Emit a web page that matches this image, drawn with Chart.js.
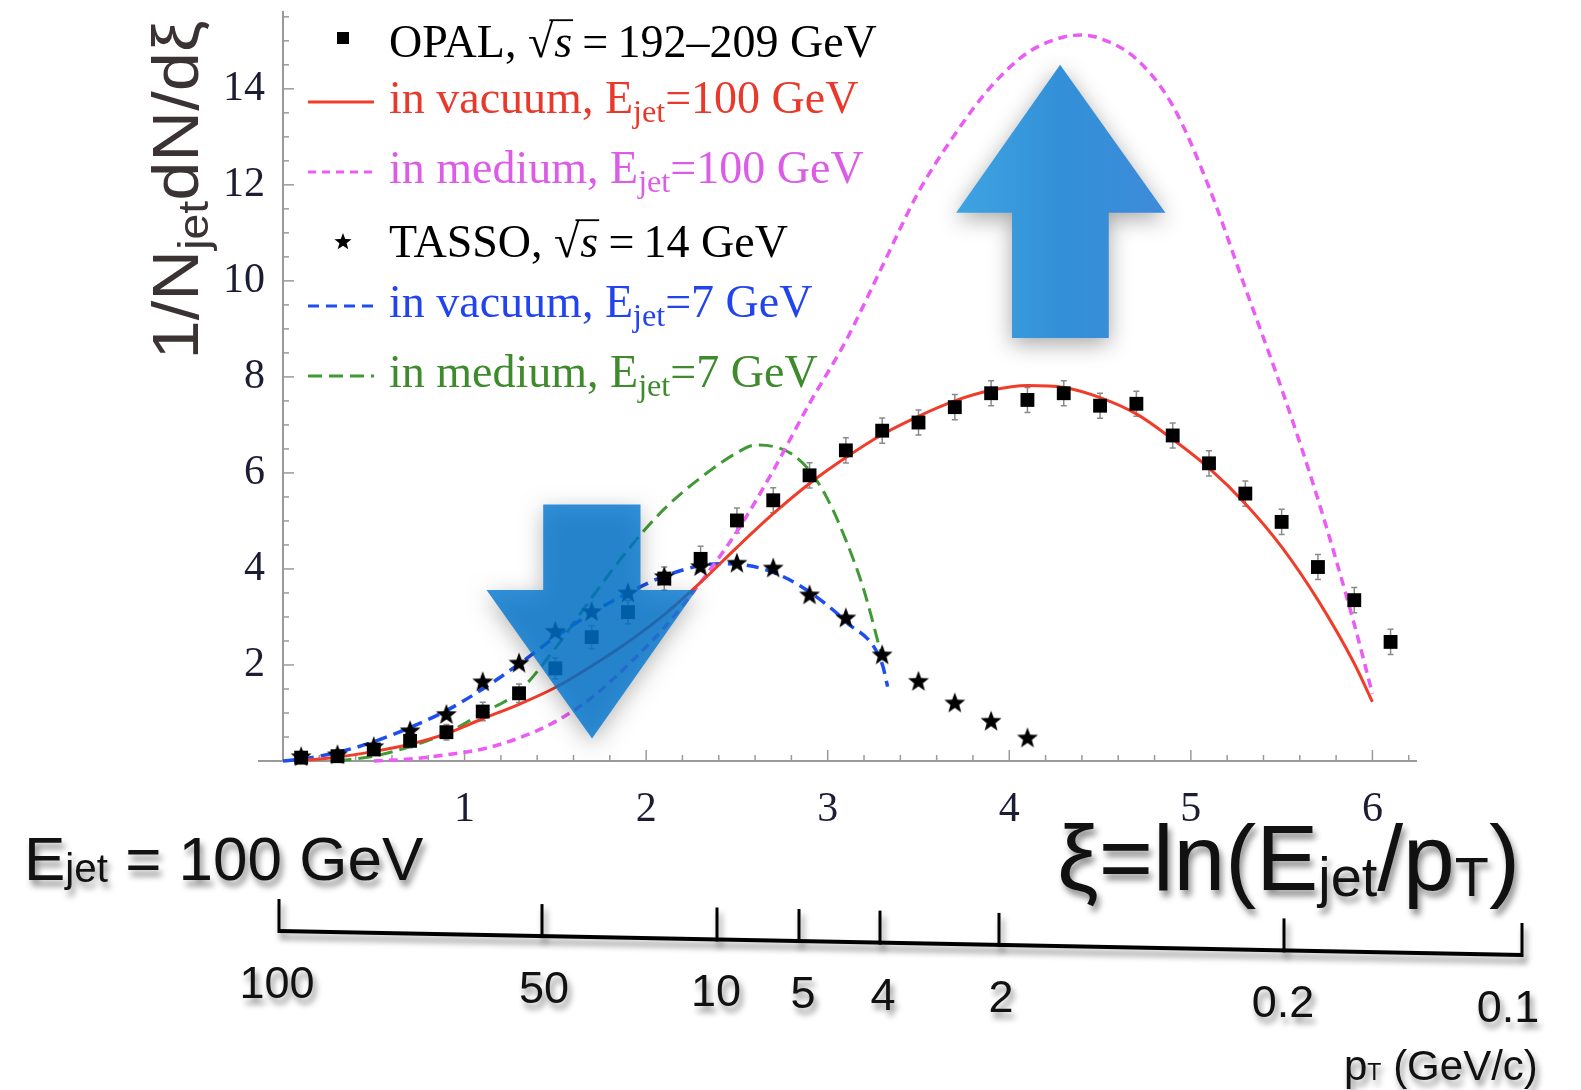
<!DOCTYPE html>
<html><head><meta charset="utf-8">
<script src="https://cdn.jsdelivr.net/npm/chart.js@4.4.0/dist/chart.umd.min.js"></script>
<style>html,body{margin:0;padding:0;background:#fff;overflow:hidden}canvas{display:block}</style>
</head><body>
<canvas id="c" width="1581" height="1090"></canvas>
<script>
// ---------- data ----------
const opalXi  = [0.1,0.3,0.5,0.7,0.9,1.1,1.3,1.5,1.7,1.9,2.1,2.3,2.5,2.7,2.9,3.1,3.3,3.5,3.7,3.9,4.1,4.3,4.5,4.7,4.9,5.1,5.3,5.5,5.7,5.9,6.1];
const opalVal = [0.07,0.10,0.24,0.42,0.60,1.03,1.41,1.93,2.58,3.10,3.80,4.21,5.01,5.43,5.95,6.47,6.88,7.05,7.37,7.66,7.52,7.66,7.40,7.44,6.78,6.20,5.57,4.98,4.04,3.35,2.48];
const opalErr = [0.05,0.05,0.08,0.10,0.12,0.15,0.15,0.18,0.20,0.20,0.20,0.22,0.22,0.22,0.22,0.22,0.22,0.22,0.22,0.22,0.22,0.22,0.22,0.22,0.22,0.22,0.22,0.22,0.22,0.22,0.22];

const tassoXi  = [0.1,0.3,0.5,0.7,0.9,1.1,1.3,1.5,1.7,1.9,2.1,2.3,2.5,2.7,2.9,3.1,3.3,3.5,3.7,3.9,4.1];
const tassoVal = [0.08,0.12,0.29,0.62,0.96,1.64,2.03,2.69,3.10,3.49,3.83,4.04,4.11,4.01,3.45,2.97,2.20,1.65,1.20,0.82,0.47];

const vac100Xi  = [0.1,0.3,0.5,0.7,0.9,1.1,1.3,1.5,1.7,1.9,2.1,2.3,2.5,2.7,2.9,3.1,3.3,3.5,3.7,3.9,4.1,4.3,4.5,4.7,4.9,5.1,5.3,5.5,5.7,5.9,6.0];
const vac100Val = [0.01,0.08,0.20,0.35,0.57,0.88,1.18,1.53,1.98,2.48,3.05,3.72,4.45,5.15,5.78,6.32,6.80,7.18,7.50,7.72,7.82,7.78,7.57,7.23,6.70,6.10,5.36,4.46,3.35,2.03,1.23];

const med100Xi  = [0.5,0.7,0.9,1.1,1.3,1.5,1.7,1.9,2.1,2.3,2.5,2.7,2.9,3.1,3.3,3.5,3.7,3.9,4.1,4.3,4.4,4.5,4.7,4.9,5.1,5.3,5.5,5.7,5.9,6.0];
const med100Val = [0.0,0.04,0.13,0.25,0.48,0.82,1.32,2.0,2.78,3.72,4.78,6.05,7.45,8.75,10.3,11.85,13.05,14.05,14.75,15.08,15.12,15.05,14.62,13.65,11.95,9.85,7.75,5.45,2.85,1.40];

const vac7Xi  = [0.0,0.1,0.3,0.5,0.7,0.9,1.1,1.3,1.5,1.7,1.9,2.1,2.3,2.4,2.5,2.7,2.9,3.1,3.3,3.33];
const vac7Val = [0.0,0.04,0.18,0.40,0.70,1.05,1.50,2.02,2.58,3.08,3.50,3.85,4.07,4.11,4.10,3.93,3.52,2.90,2.02,1.55];

const med7Xi  = [0.3,0.5,0.7,0.9,1.1,1.3,1.5,1.7,1.9,2.1,2.3,2.5,2.6,2.7,2.8,2.9,3.0,3.1,3.2,3.3];
const med7Val = [0.0,0.10,0.30,0.58,1.00,1.45,2.35,3.40,4.40,5.25,5.90,6.42,6.58,6.55,6.40,6.05,5.45,4.60,3.55,2.15];

const xTickVals = [1,2,3,4,5,6];
const yTickVals = [2,4,6,8,10,12,14];
const ptTickLabels = ['100','50','10','5','4','2','0.2','0.1'];

const labels = {
  opal:  'OPAL, √s\u2009=\u2009192–209 GeV',
  vac100:'in vacuum, E_{jet}=100 GeV',
  med100:'in medium, E_{jet}=100 GeV',
  tasso: 'TASSO, √s\u2009=\u200914 GeV',
  vac7:  'in vacuum, E_{jet}=7 GeV',
  med7:  'in medium, E_{jet}=7 GeV'
};

// ---------- layout / style constants ----------
const COL = {red:'#f03c28', mag:'#ea5cf5', blue:'#1f4ef0', green:'#3f9a35'};
const TXT = {red:'#e8392a', mag:'#dc5ce8', blue:'#2244ee', green:'#3e8a2c'};
const SERIF = '"Liberation Serif","Times New Roman",serif';
const SANS = '"Liberation Sans",Arial,Helvetica,sans-serif';
const upArrow   = {tip:[4.28,14.5], headY:11.42, headL:3.707, headR:4.86, shaftL:4.015, shaftR:4.548, bottom:8.81};
const downArrow = {tip:[1.702,0.47], headY:3.56, headL:1.121, headR:2.277, shaftL:1.433, shaftR:1.969, top:5.34};
const ptLine = {x0:279, y0:931, x1:1522, y1:955};
const ptTickX = [279,542,717,799,880,999,1284,1522];
const ptLabelX = [277,544,716,803,883,1001,1283,1508];

function pts(xs, ys){ return xs.map((x,i)=>({x:x, y:ys[i]})); }

function makeStar(r){
  const s=Math.ceil(r*2+2), c=document.createElement('canvas'); c.width=c.height=s;
  const g=c.getContext('2d'); g.fillStyle='#000'; g.beginPath();
  for(let k=0;k<10;k++){ const a=-Math.PI/2+k*Math.PI/5, rr=k%2?r*0.42:r; g.lineTo(s/2+rr*Math.cos(a), s/2+rr*Math.sin(a)); }
  g.closePath(); g.fill(); return c;
}
const starImg = makeStar(11);
const starSmall = makeStar(9);

// ---------- rich text ----------
function parseRich(str){
  const out=[]; let buf='', i=0;
  while(i<str.length){
    if(str[i]==='_' && str[i+1]==='{'){ if(buf){out.push({t:buf}); buf='';} const j=str.indexOf('}',i); out.push({t:str.slice(i+2,j), sub:true}); i=j+1; }
    else if(str[i]==='√'){ if(buf){out.push({t:buf}); buf='';} out.push({t:str[i+1], sqrt:true}); i+=2; }
    else { buf+=str[i]; i++; }
  }
  if(buf) out.push({t:buf});
  return out;
}
function richLayout(ctx, str, o){
  const toks=parseRich(str); let w=0;
  toks.forEach(t=>{
    if(t.sub){ ctx.font=`${o.weight||400} ${o.size*o.subScale}px ${o.family}`; t.w=ctx.measureText(t.t).width; }
    else if(t.sqrt){ ctx.font=`${o.weight||400} ${o.size}px ${o.family}`; t.rw=ctx.measureText('√').width; ctx.font=`italic ${o.weight||400} ${o.size}px ${o.family}`; t.sw=ctx.measureText(t.t).width; t.w=t.rw+t.sw+2; }
    else { ctx.font=`${o.weight||400} ${o.size}px ${o.family}`; t.w=ctx.measureText(t.t).width; }
    w+=t.w;
  });
  return {toks, w};
}
function drawRich(ctx, str, x, y, o){
  const L=richLayout(ctx,str,o); let cx=x;
  ctx.fillStyle=o.color; ctx.textBaseline='alphabetic'; ctx.textAlign='left';
  L.toks.forEach(t=>{
    if(t.sub){ ctx.font=`${o.weight||400} ${o.size*o.subScale}px ${o.family}`; ctx.fillText(t.t,cx,y+o.size*o.subDrop); }
    else if(t.sqrt){
      ctx.font=`${o.weight||400} ${o.size}px ${o.family}`; ctx.fillText('√',cx,y);
      ctx.font=`italic ${o.weight||400} ${o.size}px ${o.family}`; ctx.fillText(t.t,cx+t.rw+1,y);
      ctx.save(); ctx.shadowColor='transparent'; ctx.strokeStyle=o.color; ctx.lineWidth=Math.max(1.5,o.size*0.04);
      ctx.beginPath(); const ty=y-o.size*0.80; ctx.moveTo(cx+t.rw*0.85,ty); ctx.lineTo(cx+t.rw+t.sw+2,ty); ctx.stroke(); ctx.restore();
    }
    else { ctx.font=`${o.weight||400} ${o.size}px ${o.family}`; ctx.fillText(t.t,cx,y); }
    cx+=t.w;
  });
  return L.w;
}
function shadowOn(ctx){ ctx.shadowColor='rgba(0,0,0,0.45)'; ctx.shadowBlur=6; ctx.shadowOffsetX=3; ctx.shadowOffsetY=6; }

// ---------- plugins ----------
const bgPlugin = { id:'bg', beforeDraw(ch){ const c=ch.ctx; c.save(); c.fillStyle='#fff'; c.fillRect(0,0,ch.width,ch.height); c.restore(); } };

const errPlugin = { id:'err', beforeDatasetsDraw(ch){
  const c=ch.ctx, xs=ch.scales.x, ys=ch.scales.y; c.save(); c.strokeStyle='#8a8a8a'; c.lineWidth=1.5;
  opalXi.forEach((x,i)=>{ const px=xs.getPixelForValue(x), lo=ys.getPixelForValue(opalVal[i]-opalErr[i]), hi=ys.getPixelForValue(opalVal[i]+opalErr[i]);
    c.beginPath(); c.moveTo(px,lo+2); c.lineTo(px,hi-2); c.moveTo(px-3,lo+2); c.lineTo(px+3,lo+2); c.moveTo(px-3,hi-2); c.lineTo(px+3,hi-2); c.stroke(); });
  c.restore();
}};

const axisTickPlugin = { id:'axticks', beforeDatasetsDraw(ch){
  const c=ch.ctx, xs=ch.scales.x, ys=ch.scales.y, a=ch.chartArea; c.save(); c.strokeStyle='#9a9a9a'; c.lineWidth=1.5;
  for(let k=1;k<=40;k++){ const v=k*0.2, px=xs.getPixelForValue(v); if(px>a.right) break; const major=Math.abs(v-Math.round(v))<1e-6;
    c.beginPath(); c.moveTo(px,a.bottom); c.lineTo(px,a.bottom-(major?11:6)); c.stroke(); }
  for(let k=1;k<=40;k++){ const v=k*0.5; if(v>15.5) break; const py=ys.getPixelForValue(v); const major=(v%2===0);
    c.beginPath(); c.moveTo(a.left,py); c.lineTo(a.left+(major?11:6),py); c.stroke(); }
  c.lineWidth=2; c.beginPath(); c.moveTo(258,a.bottom); c.lineTo(a.left,a.bottom); c.stroke();
  c.restore();
}};

function arrowPath(c, pts){ c.beginPath(); pts.forEach((p,i)=> i? c.lineTo(p[0],p[1]) : c.moveTo(p[0],p[1])); c.closePath(); }

const decoPlugin = { id:'deco', afterDraw(ch){
  const c=ch.ctx, xs=ch.scales.x, ys=ch.scales.y, X=v=>xs.getPixelForValue(v), Y=v=>ys.getPixelForValue(v);
  // ---- arrows ----
  c.save();
  let u=upArrow;
  let P=[[X(u.tip[0]),Y(u.tip[1])],[X(u.headR),Y(u.headY)],[X(u.shaftR),Y(u.headY)],[X(u.shaftR),Y(u.bottom)],[X(u.shaftL),Y(u.bottom)],[X(u.shaftL),Y(u.headY)],[X(u.headL),Y(u.headY)]];
  let g=c.createLinearGradient(X(u.headL),0,X(u.headR),0); g.addColorStop(0,'#3ea4e2'); g.addColorStop(0.5,'#3390d8'); g.addColorStop(1,'#3e8bd9');
  c.shadowColor='rgba(0,0,0,0.35)'; c.shadowBlur=22; c.shadowOffsetY=6; c.fillStyle=g; arrowPath(c,P); c.fill();
  let d=downArrow;
  P=[[X(d.shaftL),Y(d.top)],[X(d.shaftR),Y(d.top)],[X(d.shaftR),Y(d.headY)],[X(d.headR),Y(d.headY)],[X(d.tip[0]),Y(d.tip[1])],[X(d.headL),Y(d.headY)],[X(d.shaftL),Y(d.headY)]];
  c.fillStyle='rgba(0,118,208,0.80)'; arrowPath(c,P); c.fill();
  c.restore();

  // ---- legend ----
  c.save();
  const lo={size:46, family:SERIF, subScale:0.7, subDrop:0.2};
  const rows=[
    {lab:labels.opal,  col:'#000', kind:'sq',  base:57},
    {lab:labels.vac100,col:TXT.red, line:COL.red, dash:[], base:113},
    {lab:labels.med100,col:TXT.mag, line:COL.mag, dash:[8,6], base:183},
    {lab:labels.tasso, col:'#000', kind:'star', base:257},
    {lab:labels.vac7,  col:TXT.blue, line:COL.blue, dash:[11,7], base:317},
    {lab:labels.med7,  col:TXT.green, line:COL.green, dash:[14,7], base:387}
  ];
  rows.forEach(r=>{
    if(r.kind==='sq'){ c.fillStyle='#000'; c.fillRect(337,r.base-25,12,12); }
    else if(r.kind==='star'){ c.drawImage(starSmall, 343-starSmall.width/2, r.base-15-starSmall.height/2); }
    else { c.strokeStyle=r.line; c.lineWidth=3; c.setLineDash(r.dash); c.beginPath(); c.moveTo(308,r.base-11); c.lineTo(374,r.base-11); c.stroke(); c.setLineDash([]); }
    drawRich(c, r.lab, 389, r.base, Object.assign({color:r.col}, lo));
  });
  c.restore();

  // ---- y title ----
  c.save();
  const yo={size:64, family:SANS, subScale:0.66, subDrop:0.16, color:'#3b3333'};
  const yt='1/N_{jet}dN/dξ'; const yw=richLayout(c,yt,yo).w;
  c.translate(198,190); c.rotate(-Math.PI/2); c.scale(1.1,1);
  drawRich(c, yt, -yw/2, 0, yo);
  c.restore();

  // ---- bottom annotations ----
  c.save(); shadowOn(c);
  drawRich(c,'E_{jet} = 100 GeV',24,880,{size:62,family:SANS,subScale:0.65,subDrop:0.04,color:'#111'});
  drawRich(c,'ξ=ln(E_{jet}/p_{T})',1057,890,{size:93,family:SANS,subScale:0.6,subDrop:0.06,color:'#111'});
  // pT axis
  c.strokeStyle='#000'; c.lineWidth=4; c.lineCap='butt';
  c.beginPath(); c.moveTo(ptLine.x0,ptLine.y0); c.lineTo(ptLine.x1,ptLine.y1); c.stroke();
  const ly=x=>ptLine.y0+(ptLine.y1-ptLine.y0)*(x-ptLine.x0)/(ptLine.x1-ptLine.x0);
  c.lineWidth=3;
  ptTickX.forEach(x=>{ c.beginPath(); c.moveTo(x,ly(x)+2); c.lineTo(x,ly(x)-32); c.stroke(); });
  c.font=`45px ${SANS}`; c.fillStyle='#111'; c.textAlign='center'; c.textBaseline='alphabetic';
  ptTickLabels.forEach((t,i)=>{ const x=ptLabelX[i]; c.fillText(t,x,ly(ptTickX[i])+67); });
  drawRich(c,'p_{T} (GeV/c)',1344,1080,{size:42,family:SANS,subScale:0.55,subDrop:0.0,color:'#111'});
  c.restore();
}};

// ---------- chart ----------
const ctx=document.getElementById('c').getContext('2d');
new Chart(ctx,{
  type:'scatter',
  data:{ datasets:[
    {label:labels.opal, data:pts(opalXi,opalVal), pointStyle:'rect', pointRadius:9.8, backgroundColor:'#000', borderWidth:0, showLine:false, clip:false},
    {label:labels.tasso, data:pts(tassoXi,tassoVal), pointStyle:starImg, pointRadius:11, showLine:false, clip:false},
    {label:labels.vac100, data:pts(vac100Xi,vac100Val), showLine:true, pointRadius:0, borderColor:COL.red, borderWidth:3, cubicInterpolationMode:'monotone', clip:false},
    {label:labels.med100, data:pts(med100Xi,med100Val), showLine:true, pointRadius:0, borderColor:COL.mag, borderWidth:3.5, borderDash:[9,6], cubicInterpolationMode:'monotone', clip:false},
    {label:labels.vac7, data:pts(vac7Xi,vac7Val), showLine:true, pointRadius:0, borderColor:COL.blue, borderWidth:3.5, borderDash:[12,7], cubicInterpolationMode:'monotone', clip:false},
    {label:labels.med7, data:pts(med7Xi,med7Val), showLine:true, pointRadius:0, borderColor:COL.green, borderWidth:3, borderDash:[14,7], cubicInterpolationMode:'monotone', clip:false}
  ]},
  options:{
    responsive:false, maintainAspectRatio:false, animation:false, devicePixelRatio:1,
    layout:{padding:{top:11,right:165,left:0,bottom:0}},
    plugins:{legend:{display:false}, tooltip:{enabled:false}},
    scales:{
      x:{type:'linear', min:0, max:6.24,
         afterBuildTicks:s=>{ s.ticks=xTickVals.map(v=>({value:v})); },
         afterFit:s=>{ s.height=329; s.paddingLeft=0; s.paddingRight=0; },
         grid:{display:false, drawTicks:false}, border:{display:true, color:'#9a9a9a', width:2},
         ticks:{padding:24, color:'#1c1c34', font:{family:SERIF, size:42}, maxRotation:0, autoSkip:false}},
      y:{type:'linear', min:0, max:15.6,
         afterBuildTicks:s=>{ s.ticks=yTickVals.map(v=>({value:v})); },
         afterFit:s=>{ s.width=283; s.paddingTop=0; s.paddingBottom=0; },
         grid:{display:false, drawTicks:false}, border:{display:true, color:'#9a9a9a', width:2},
         ticks:{padding:18, color:'#1c1c34', font:{family:SERIF, size:42}, autoSkip:false}}
    }
  },
  plugins:[bgPlugin, axisTickPlugin, errPlugin, decoPlugin]
});
</script>
</body></html>
